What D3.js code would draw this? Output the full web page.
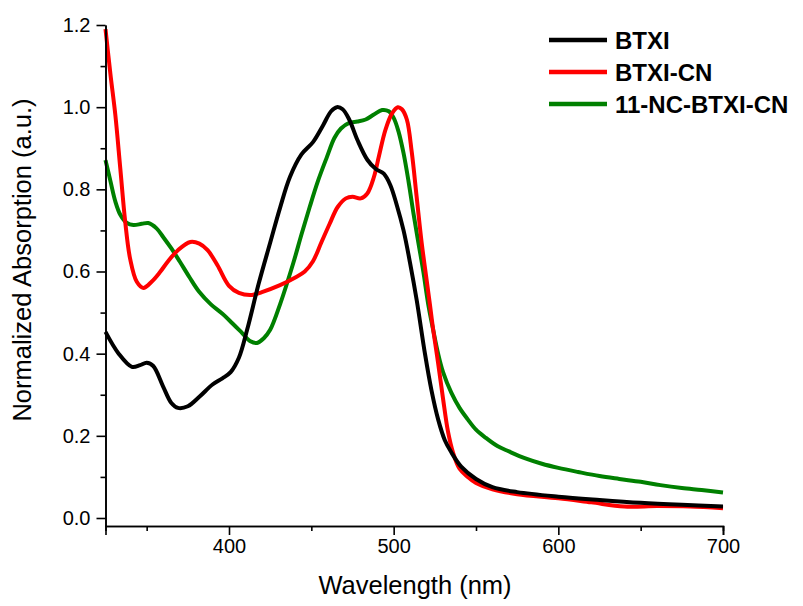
<!DOCTYPE html>
<html><head><meta charset="utf-8">
<script src="https://cdn.jsdelivr.net/npm/d3@7"></script>
<style>body{margin:0;background:#fff;} text{font-family:"Liberation Sans",Arial,sans-serif;}</style>
</head><body><svg id="c" width="803" height="606"></svg>
<script>
const seriesNames = ["BTXI", "BTXI-CN", "11-NC-BTXI-CN"];
const seriesColors = ["#000000", "#ff0000", "#008000"];
const xTicks = [400, 500, 600, 700];
const yTicks = [0.0, 0.2, 0.4, 0.6, 0.8, 1.0, 1.2];

const btxi = [[325,0.453],[333,0.40],[341,0.368],[346,0.372],[350,0.378],[354,0.37],[360,0.32],[365,0.28],[369,0.268],[375,0.272],[382,0.295],[390,0.325],[396,0.34],[401,0.355],[406,0.39],[411,0.458],[418,0.57],[425,0.67],[431,0.755],[437,0.83],[444,0.885],[451,0.915],[457,0.955],[462,0.99],[465.5,1.0],[469,0.995],[473,0.97],[478,0.92],[484,0.872],[489,0.85],[494,0.838],[498,0.81],[502,0.76],[506,0.70],[510,0.62],[514,0.53],[519,0.40],[523,0.31],[527,0.24],[531,0.19],[535,0.16],[541,0.125],[550,0.095],[560,0.075],[575,0.063],[600,0.052],[625,0.044],[650,0.037],[675,0.032],[700,0.028]];

const btxiCN = [[325,1.19],[328,1.08],[331,0.98],[334,0.85],[337,0.72],[340,0.63],[344,0.575],[348,0.56],[353,0.575],[358,0.598],[363,0.625],[369,0.652],[376.5,0.672],[382,0.668],[387,0.652],[393,0.615],[400,0.565],[406,0.548],[414,0.543],[420,0.55],[431,0.567],[440,0.585],[446,0.6],[451,0.625],[456,0.67],[461,0.715],[466,0.757],[471,0.778],[475,0.782],[480,0.778],[484,0.79],[488,0.83],[491,0.88],[495,0.945],[499,0.985],[502.5,1.0],[505,0.995],[508,0.97],[511,0.89],[514,0.78],[517,0.67],[520,0.58],[522,0.52],[524,0.458],[527,0.377],[530,0.29],[533,0.21],[536,0.16],[540,0.12],[545,0.1],[550,0.085],[560,0.07],[575,0.058],[600,0.048],[620,0.038],[640,0.028],[660,0.029],[680,0.028],[700,0.024]];

const ncBTXI = [[325,0.871],[328,0.82],[331,0.77],[334,0.738],[338,0.718],[342,0.713],[347,0.716],[351,0.718],[356,0.705],[360,0.684],[365,0.656],[370,0.625],[376,0.586],[382,0.55],[389,0.52],[396,0.497],[402,0.474],[408,0.45],[413,0.43],[417,0.426],[421,0.437],[425,0.458],[431,0.52],[439,0.62],[444,0.69],[449,0.757],[454,0.82],[459.5,0.879],[464,0.925],[468,0.948],[473,0.962],[478,0.965],[483,0.97],[488,0.982],[493,0.993],[497,0.99],[500,0.974],[503,0.94],[506,0.888],[509,0.82],[512,0.742],[515,0.67],[518,0.6],[521,0.52],[524,0.458],[527,0.4],[530,0.355],[535,0.305],[540,0.268],[545,0.24],[550,0.215],[556,0.195],[563,0.175],[570,0.162],[580,0.145],[590,0.132],[600,0.122],[612,0.112],[625,0.102],[637,0.095],[650,0.088],[662,0.08],[675,0.073],[687,0.068],[700,0.062]];

const seriesData = [btxi, btxiCN, ncBTXI];

const svg = d3.select("#c");
const x = d3.scaleLinear().domain([325, 700]).range([105.5, 723]);
const y = d3.scaleLinear().domain([0, 1.2]).range([518, 25]);
const yBottom = y(-0.0195);

// data lines
const line = d3.line().x(d => x(d[0])).y(d => y(d[1])).curve(d3.curveCatmullRom.alpha(0.5));
const order = [2, 1, 0];
order.forEach(i => {
  svg.append("path").datum(seriesData[i])
    .attr("d", line).attr("fill", "none")
    .attr("stroke", seriesColors[i]).attr("stroke-width", 4)
    .attr("stroke-linejoin", "round").attr("stroke-linecap", "butt");
});

const tickFont = 20;
// x axis
const gx = svg.append("g").attr("transform", `translate(0,${yBottom})`);
gx.call(d3.axisBottom(x).tickValues([350,450,550,650]).tickSize(5).tickFormat(""));
gx.call(g => g.append("g").call(d3.axisBottom(x).tickValues(xTicks).tickSize(9).tickPadding(4).tickFormat(d3.format("d"))));
gx.selectAll("path.domain").attr("stroke-width", 1.6).attr("stroke", "#000");
gx.selectAll("line").attr("stroke-width", 1.6).attr("stroke", "#000");
gx.selectAll("text").attr("font-size", tickFont).attr("fill", "#000").attr("font-family", "Liberation Sans, Arial, sans-serif");

// y axis
const gy = svg.append("g").attr("transform", `translate(105.5,0)`);
const ys = d3.scaleLinear().domain([-0.0195, 1.2]).range([yBottom, 25]);
gy.call(d3.axisLeft(ys).tickValues([0.1,0.3,0.5,0.7,0.9,1.1]).tickSize(5).tickFormat("").tickSizeOuter(0));
gy.call(g => g.append("g").call(d3.axisLeft(ys).tickValues(yTicks).tickSize(9).tickPadding(6).tickFormat(d3.format(".1f")).tickSizeOuter(0)));
gy.selectAll("path.domain").attr("stroke-width", 1.6).attr("stroke", "#000");
gy.selectAll("line").attr("stroke-width", 1.6).attr("stroke", "#000");
gy.selectAll("text").attr("font-size", tickFont).attr("fill", "#000").attr("font-family", "Liberation Sans, Arial, sans-serif");

// axis titles
svg.append("text").attr("x", 415).attr("y", 594).attr("text-anchor", "middle")
  .attr("font-size", 25.5).text("Wavelength (nm)");
svg.append("text").attr("transform", "translate(31,260) rotate(-90)").attr("text-anchor", "middle")
  .attr("font-size", 25.5).text("Normalized Absorption (a.u.)");

// legend
seriesNames.forEach((n, i) => {
  const ly = 40 + i * 32;
  svg.append("line").attr("x1", 549).attr("x2", 607).attr("y1", ly).attr("y2", ly)
    .attr("stroke", seriesColors[i]).attr("stroke-width", 4.5);
  svg.append("text").attr("x", 615).attr("y", ly + 8.5).attr("font-size", 24)
    .attr("font-weight", "bold").text(n);
});
</script></body></html>
